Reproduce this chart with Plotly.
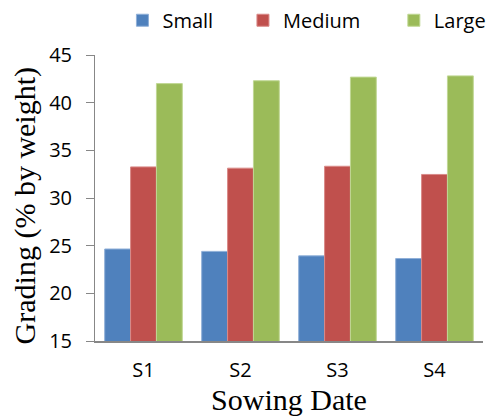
import plotly.graph_objects as go

# Seed grading by sowing date (% by weight)
sowing_dates = ["S1", "S2", "S3", "S4"]
small = [24.65, 24.4, 23.93, 23.65]
medium = [33.26, 33.13, 33.33, 32.47]
large = [42.0, 42.3, 42.68, 42.81]

series_names = ["Small", "Medium", "Large"]
series_colors = ["#4F81BD", "#C0504D", "#9BBB59"]
edge_colors = ["#8FAFD8", "#D98A88", "#C0D894"]
series_values = [small, medium, large]

W, H = 492, 417
ML, MR, MT, MB = 95, 1, 53, 76

tick_font = dict(family="'Open Sans', 'Liberation Sans', sans-serif", size=20, color="#000000")
title_font = dict(family="'Liberation Serif', 'Times New Roman', serif", size=30, color="#000000")

fig = go.Figure()
legend_ids = ["legend", "legend2", "legend3"]
legend_x_px = [123, 246, 400]  # left edge of each legend entry, in pixels

for name, vals, col, edge, lg in zip(series_names, series_values, series_colors, edge_colors, legend_ids):
    fig.add_trace(go.Bar(
        x=sowing_dates, y=vals, name=name,
        marker=dict(color=col, line=dict(color=edge, width=1)),
        legend=lg,
    ))

plot_w = W - ML - MR
plot_h = H - MT - MB
legend_common = dict(
    orientation="h", xanchor="left", yanchor="middle",
    font=tick_font, bgcolor="rgba(0,0,0,0)", borderwidth=0,
    itemwidth=30, xref="paper", yref="paper",
)
layout_legends = {}
for lg, xpx in zip(legend_ids, legend_x_px):
    layout_legends[lg] = dict(
        legend_common,
        x=(xpx - ML) / plot_w,
        y=1 + (MT - 18) / plot_h,
    )

fig.update_layout(
    width=W, height=H,
    margin=dict(l=ML, r=MR, t=MT, b=MB, pad=0),
    paper_bgcolor="white", plot_bgcolor="white",
    barmode="group", bargap=0.2, bargroupgap=0,
    showlegend=True,
    **layout_legends,
)

# y-axis title, rotated, sitting left of the tick labels
fig.add_annotation(
    text="Grading (% by weight)", font=title_font, textangle=-90,
    xref="paper", yref="paper", x=(23 - ML) / plot_w, y=(H - MB - 205) / plot_h,
    xanchor="center", yanchor="middle", showarrow=False,
)

fig.update_xaxes(
    showline=True, linecolor="#878787", linewidth=2,
    ticks="", showgrid=False, tickfont=tick_font,
    ticklabelstandoff=10,
    title=dict(text="Sowing Date", font=title_font, standoff=0),
)
fig.update_yaxes(
    range=[15, 45], tickvals=[15, 20, 25, 30, 35, 40, 45],
    showline=True, linecolor="#878787", linewidth=1,
    ticks="outside", ticklen=8, tickcolor="#878787", tickwidth=1,
    showgrid=False, zeroline=False, tickfont=tick_font,
    ticklabelstandoff=10,
)

fig.write_html("out.html")
